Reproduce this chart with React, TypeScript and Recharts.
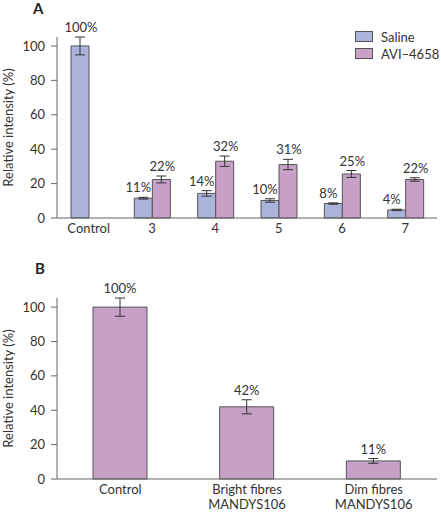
import { Bar, BarChart, ErrorBar, LabelList, Legend, XAxis, YAxis } from "recharts";

const FONT = "Lato, 'Open Sans', sans-serif";
const FS = 13;
const SALINE = "#aab3da";
const AVI = "#c6a0c6";
const INK = "#333";
const AXIS = "#666";

// panel A
const categoriesA = ["Control", "3", "4", "5", "6", "7"];
const salineA = [100, 11.5, 14.3, 10.2, 8.4, 4.7];
const salineErrA = [5.2, 0.5, 1.6, 1, 0.4, 0.4];
const aviA = [null, 22.4, 33, 31.1, 25.6, 22.4];
const aviErrA = [null, 2, 3, 3, 2, 1];
const salineLabelsA = ["100%", "11%", "14%", "10%", "8%", "4%"];
const aviLabelsA = ["", "22%", "32%", "31%", "25%", "22%"];
const legendOrder = ["Saline", "AVI–4658"];

// panel B
const categoriesB = ["Control", "Bright fibres\nMANDYS106", "Dim fibres\nMANDYS106"];
const valuesB = [100, 42, 10.5];
const errB = [5.3, 4.1, 1.4];
const labelsB = ["100%", "42%", "11%"];

const yTicks = [0, 20, 40, 60, 80, 100];

const dataA = categoriesA.map((name, i) => ({
  name,
  idx: i,
  saline: salineA[i],
  salineErr: salineErrA[i],
  avi: aviA[i],
  aviErr: aviErrA[i],
}));

const dataB = categoriesB.map((name, i) => ({ name, idx: i, value: valuesB[i], err: errB[i] }));

// label sits just above the error bar cap; value passed in is the category index
function valueLabel(
  labels: string[],
  values: (number | null)[],
  errs: (number | null)[],
  dx: (i: number) => number
) {
  return (props: any) => {
    const { x, y, width, height } = props;
    const i = Number(props.value);
    const v = values[i];
    if (v == null || !labels[i]) return null;
    const errPx = ((errs[i] ?? 0) * Math.abs(height)) / v;
    return (
      <text
        x={x + width / 2 + dx(i)}
        y={y - errPx - 5}
        textAnchor="middle"
        fontSize={FS}
        fill={INK}
        fontFamily={FONT}
      >
        {labels[i]}
      </text>
    );
  };
}

function CategoryTick(props: any) {
  const { x, y, payload } = props;
  const lines = String(payload.value).split("\n");
  return (
    <g>
      {lines.map((line, i) => (
        <text
          key={i}
          x={x}
          y={y + 14.5 + i * 15}
          textAnchor="middle"
          fontSize={FS}
          fill={INK}
          fontFamily={FONT}
        >
          {line}
        </text>
      ))}
    </g>
  );
}

function yLabel({ viewBox }: any) {
  const cx = viewBox.x + 8;
  const cy = viewBox.y + viewBox.height / 2;
  return (
    <text
      x={cx}
      y={cy}
      transform={`rotate(-90 ${cx} ${cy})`}
      textAnchor="middle"
      dominantBaseline="central"
      fontSize={FS}
      fill={INK}
      fontFamily={FONT}
    >
      Relative intensity (%)
    </text>
  );
}

function LegendBox({ payload }: any) {
  const items = [...(payload ?? [])].sort(
    (a: any, b: any) => legendOrder.indexOf(a.value) - legendOrder.indexOf(b.value)
  );
  return (
    <div style={{ fontFamily: FONT, fontSize: FS, color: INK }}>
      {items.map((p: any) => (
        <div key={p.value} style={{ display: "flex", alignItems: "center", height: 17 }}>
          <span
            style={{
              width: 18,
              height: 11,
              background: p.color,
              border: "1px solid #555",
              boxSizing: "border-box",
              marginRight: 8,
            }}
          />
          <span>{p.value}</span>
        </div>
      ))}
    </div>
  );
}

export default function App() {
  const yAxisProps = {
    domain: [0, 100] as [number, number],
    ticks: yTicks,
    width: 57,
    tickSize: 6,
    tickMargin: 6,
    stroke: AXIS,
    tick: { fontSize: FS, fill: INK, fontFamily: FONT },
    label: yLabel,
  };
  return (
    <div style={{ position: "absolute", left: 0, top: 0, width: 441, height: 512, fontFamily: FONT }}>
      <div style={{ position: "absolute", left: 33, top: 0, fontSize: 15, fontWeight: 700, lineHeight: "16px", color: "#222" }}>
        A
      </div>
      <div style={{ position: "absolute", left: 35, top: 260, fontSize: 15, fontWeight: 700, lineHeight: "16px", color: "#222" }}>
        B
      </div>

      <BarChart width={441} height={250} data={dataA} barGap={0} margin={{ top: 37, right: 4, bottom: 0, left: 0 }}>
        <XAxis
          xAxisId="edges"
          type="number"
          domain={[0, 6]}
          ticks={[0, 1, 2, 3, 4, 5, 6]}
          allowDataOverflow
          height={0}
          axisLine={false}
          tickSize={8}
          stroke={AXIS}
          tickFormatter={() => ""}
        />
        <XAxis
          xAxisId="cat"
          dataKey="name"
          height={32}
          tickLine={false}
          tickSize={0}
          tickMargin={0}
          stroke={AXIS}
          tick={<CategoryTick />}
          interval={0}
        />
        <YAxis {...yAxisProps} />
        <Legend
          layout="vertical"
          align="center"
          verticalAlign="middle"
          wrapperStyle={{ left: 355, top: 28, width: 86 }}
          content={<LegendBox />}
        />
        <Bar xAxisId="cat" dataKey="saline" name="Saline" fill={SALINE} stroke="#555" barSize={18} isAnimationActive={false}>
          <ErrorBar dataKey="salineErr" width={5} stroke={INK} strokeWidth={1} />
          <LabelList dataKey="idx" content={valueLabel(salineLabelsA, salineA, salineErrA, (i) => (i === 0 ? 1 : -5))} />
        </Bar>
        <Bar xAxisId="cat" dataKey="avi" name="AVI–4658" fill={AVI} stroke="#555" barSize={18} isAnimationActive={false}>
          <ErrorBar dataKey="aviErr" width={5} stroke={INK} strokeWidth={1} />
          <LabelList dataKey="idx" content={valueLabel(aviLabelsA, aviA, aviErrA, () => 1)} />
        </Bar>
      </BarChart>

      <BarChart width={441} height={262} data={dataB} margin={{ top: 48, right: 4, bottom: 0, left: 0 }}>
        <XAxis
          xAxisId="edges"
          type="number"
          domain={[0, 3]}
          ticks={[0, 1, 2, 3]}
          allowDataOverflow
          height={0}
          axisLine={false}
          tickSize={8}
          stroke={AXIS}
          tickFormatter={() => ""}
        />
        <XAxis
          xAxisId="cat"
          dataKey="name"
          height={33}
          tickLine={false}
          tickSize={0}
          tickMargin={0}
          stroke={AXIS}
          tick={<CategoryTick />}
          interval={0}
        />
        <YAxis {...yAxisProps} />
        <Bar xAxisId="cat" dataKey="value" fill={AVI} stroke="#555" barSize={54} isAnimationActive={false}>
          <ErrorBar dataKey="err" width={5} stroke={INK} strokeWidth={1} />
          <LabelList dataKey="idx" content={valueLabel(labelsB, valuesB, errB, () => 0)} />
        </Bar>
      </BarChart>
    </div>
  );
}
